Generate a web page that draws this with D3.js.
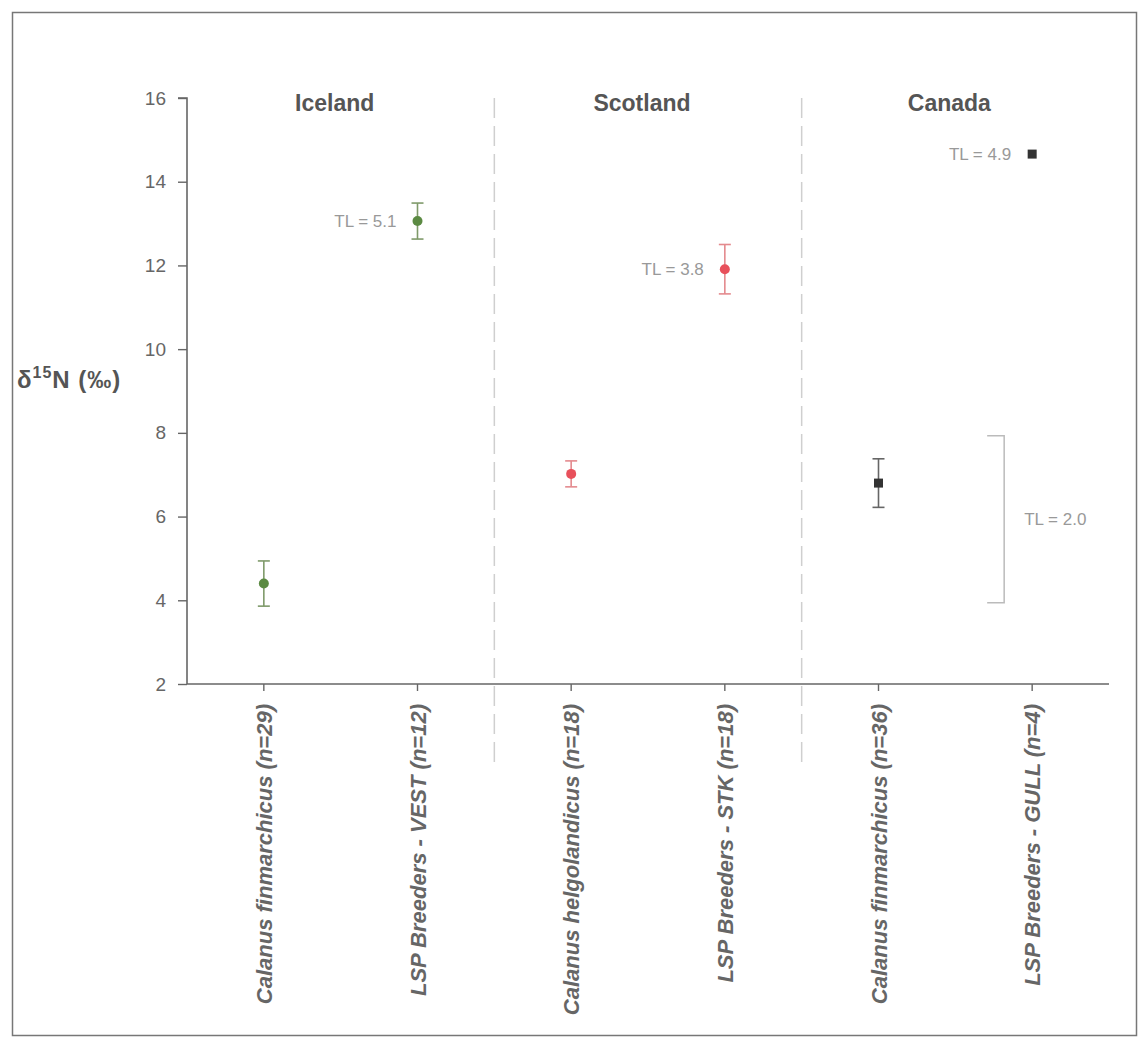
<!DOCTYPE html>
<html>
<head>
<meta charset="utf-8">
<script src="https://cdn.jsdelivr.net/npm/d3@7"></script>
<style>
  html, body { margin: 0; padding: 0; background: #fff; }
  svg { display: block; font-family: "Liberation Sans", Arial, sans-serif; }
</style>
</head>
<body>
<svg id="chart" width="1148" height="1046"></svg>
<script>
// ---- data ----
const categories = ["ice-cfin", "ice-lsp", "sco-chel", "sco-lsp", "can-cfin", "can-lsp"];
const labelMain = ["Calanus finmarchicus", "LSP Breeders - VEST", "Calanus helgolandicus", "LSP Breeders - STK", "Calanus finmarchicus", "LSP Breeders - GULL"];
const labelN = ["29", "12", "18", "18", "36", "4"];
const regions = ["Iceland", "Scotland", "Canada"];
const regionOf = [0, 0, 1, 1, 2, 2];
const means = [4.40, 13.06, 7.02, 11.91, 6.80, 14.66];
const errors = [0.54, 0.43, 0.31, 0.59, 0.58, 0.05];
const tlLabels = [null, "TL = 5.1", null, "TL = 3.8", null, "TL = 4.9"];
const bracketRange = [3.94, 7.93];
const bracketLabel = "TL = 2.0";
const yTicks = [2, 4, 6, 8, 10, 12, 14, 16];

const regionColors = ["#5b8a42", "#e8505b", "#333333"];
const barColors = ["#7f9a6a", "#e48a8e", "#666666"];
const shapes = ["circle", "circle", "square"];

// ---- layout ----
const svg = d3.select("#chart");
const mLeft = 187, mRight = 1109, mTop = 98, mBottom = 684;

// frame
svg.append("rect").attr("x", 12.5).attr("y", 12.5).attr("width", 1124).attr("height", 1023)
  .attr("fill", "none").attr("stroke", "#777").attr("stroke-width", 1.5);

const x = d3.scaleBand().domain(categories).range([mLeft, mRight]).padding(0);
const y = d3.scaleLinear().domain([2, 16]).range([mBottom, mTop]);
const cx = i => x(categories[i]) + x.bandwidth() / 2;

// dividers between regions
[1, 3].forEach(i => {
  const xd = x(categories[i]) + x.bandwidth();
  svg.append("line").attr("x1", xd).attr("x2", xd).attr("y1", 98).attr("y2", 770)
    .attr("stroke", "#cfcfcf").attr("stroke-width", 1.5).attr("stroke-dasharray", "20,8");
});

// y axis
const yAxis = svg.append("g").attr("transform", `translate(${mLeft},0)`)
  .call(d3.axisLeft(y).tickValues(yTicks).tickSize(9).tickPadding(12).tickFormat(d3.format("d")));
yAxis.select(".domain").attr("stroke", "#666").attr("stroke-width", 1.6).attr("d", `M-9,${mTop}H0V${mBottom}`);
yAxis.selectAll(".tick line").attr("stroke", "#666").attr("stroke-width", 1.4);
yAxis.selectAll(".tick text").attr("fill", "#666").style("font-size", "19px");

// x axis
const xAxis = svg.append("g").attr("transform", `translate(0,${mBottom})`)
  .call(d3.axisBottom(x).tickSize(7).tickFormat(""));
xAxis.select(".domain").attr("stroke", "#666").attr("stroke-width", 1.6).attr("d", `M${mLeft},0H${mRight}`);
xAxis.selectAll(".tick line").attr("stroke", "#666").attr("stroke-width", 1.4);

// x labels (rotated)
categories.forEach((c, i) => {
  const t = svg.append("text")
    .attr("transform", `translate(${cx(i) + 8},${mBottom + 20}) rotate(-90)`)
    .attr("text-anchor", "end")
    .attr("fill", "#666")
    .style("font-size", "22px").style("font-weight", "bold").style("font-style", "italic");
  t.append("tspan").text(labelMain[i] + " (");
  t.append("tspan").text("n");
  t.append("tspan").text("=" + labelN[i] + ")");
});

// region titles
regions.forEach((r, k) => {
  const a = cx(2 * k), b = cx(2 * k + 1);
  svg.append("text").attr("x", (a + b) / 2 - 6).attr("y", 111)
    .attr("text-anchor", "middle").attr("fill", "#555")
    .style("font-size", "23px").style("font-weight", "bold").text(r);
});

// error bars & markers
categories.forEach((c, i) => {
  const k = regionOf[i];
  const g = svg.append("g");
  const xc = cx(i);
  if (errors[i] > 0.1) {
    const y1 = y(means[i] + errors[i]), y2 = y(means[i] - errors[i]);
    g.append("line").attr("x1", xc).attr("x2", xc).attr("y1", y1).attr("y2", y2)
      .attr("stroke", barColors[k]).attr("stroke-width", 1.6);
    [y1, y2].forEach(yy => g.append("line").attr("x1", xc - 6).attr("x2", xc + 6).attr("y1", yy).attr("y2", yy)
      .attr("stroke", barColors[k]).attr("stroke-width", 1.6));
  }
  if (shapes[k] === "circle") {
    g.append("circle").attr("cx", xc).attr("cy", y(means[i])).attr("r", 5).attr("fill", regionColors[k]);
  } else {
    g.append("rect").attr("x", xc - 4.5).attr("y", y(means[i]) - 4.5).attr("width", 9).attr("height", 9).attr("fill", regionColors[k]);
  }
  if (tlLabels[i]) {
    svg.append("text").attr("x", xc - 21).attr("y", y(means[i]) + 6)
      .attr("text-anchor", "end").attr("fill", "#999").style("font-size", "17px").text(tlLabels[i]);
  }
});

// bracket (TL = 2.0)
const bx = cx(5) - 28;
svg.append("path")
  .attr("d", `M${bx - 17},${y(bracketRange[1])}H${bx}V${y(bracketRange[0])}H${bx - 17}`)
  .attr("fill", "none").attr("stroke", "#bbb").attr("stroke-width", 1.5);
svg.append("text").attr("x", bx + 20).attr("y", y((bracketRange[0] + bracketRange[1]) / 2) + 6)
  .attr("fill", "#999").style("font-size", "17px").text(bracketLabel);

// y axis title
const yt = svg.append("text").attr("x", 17).attr("y", 388).attr("fill", "#555")
  .style("font-size", "24px").style("font-weight", "bold").style("letter-spacing", "1px");
yt.append("tspan").text("δ");
yt.append("tspan").attr("dy", -10).style("font-size", "16px").text("15");
yt.append("tspan").attr("dy", 10).text("N (‰)");
</script>
</body>
</html>
